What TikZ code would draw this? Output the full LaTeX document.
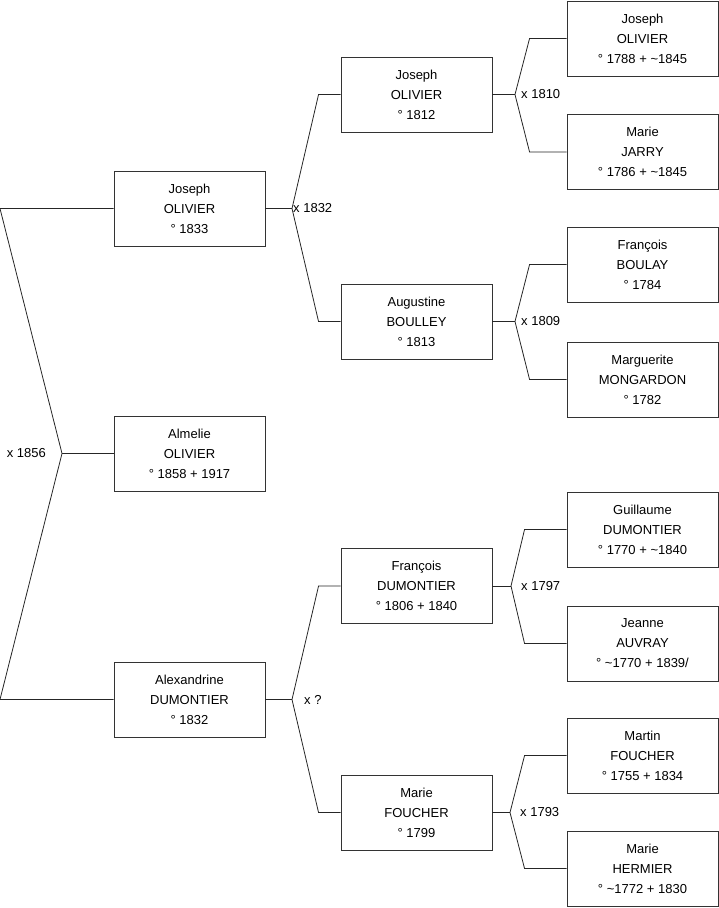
\documentclass[tikz,border=0pt]{standalone}
\usepackage{fontspec}
\setmainfont{Liberation Sans}
\usepackage{tikz}
\usetikzlibrary{positioning}
\usetikzlibrary{calc}

\tikzset{
    person/.style={draw=black!80, line width=0.9pt, minimum width=151pt, minimum height=75pt,
        inner sep=0pt, align=center, font=\fontsize{13}{20}\selectfont},
    link/.style={draw=black!85, line width=0.8pt},
    wed/.style={inner sep=0pt, font=\fontsize{13}{15}\selectfont}
}

\begin{document}
\begin{tikzpicture}[x=1pt,y=-1pt]
    \useasboundingbox (0,0) rectangle (719,908);

    \node[person] (me) at (189.5,453.5) {Almelie\\OLIVIER\\° 1858 + 1917};
    \node[person] (fa) at (189.5,208.5) {Joseph\\OLIVIER\\° 1833};
    \node[person] (mo) at (189.5,699.5) {Alexandrine\\DUMONTIER\\° 1832};

    \node[person] (ff) at (416.5,94.5)  {Joseph\\OLIVIER\\° 1812};
    \node[person] (fm) at (416.5,321.5) {Augustine\\BOULLEY\\° 1813};
    \node[person] (mf) at (416.5,586)   {François\\DUMONTIER\\° 1806 + 1840};
    \node[person] (mm) at (416.5,812.5) {Marie\\FOUCHER\\° 1799};

    \node[person] (fff) at (642.5,38.5)  {Joseph\\OLIVIER\\° 1788 + \textasciitilde1845};
    \node[person] (ffm) at (642.5,152)   {Marie\\JARRY\\° 1786 + \textasciitilde1845};
    \node[person] (fmf) at (642.5,264.5) {François\\BOULAY\\° 1784};
    \node[person] (fmm) at (642.5,379.5) {Marguerite\\MONGARDON\\° 1782};
    \node[person] (mff) at (642.5,529.5) {Guillaume\\DUMONTIER\\° 1770 + \textasciitilde1840};
    \node[person] (mfm) at (642.5,643.5) {Jeanne\\AUVRAY\\° \textasciitilde1770 + 1839/};
    \node[person] (mmf) at (642.5,755.5) {Martin\\FOUCHER\\° 1755 + 1834};
    \node[person] (mmm) at (642.5,868.5) {Marie\\HERMIER\\° \textasciitilde1772 + 1830};

    \coordinate (x0) at (62,453.5);
    \coordinate (l0a) at (0,208.5);
    \coordinate (l0b) at (0,699.5);
    \coordinate (x1) at (292,208.5);
    \coordinate (x2) at (292,699.5);
    \coordinate (x3) at (515,94.5);
    \coordinate (x4) at (515,321.5);
    \coordinate (x5) at (511,586);
    \coordinate (x6) at (510,812.5);

    \node[wed, left=16pt of x0] (w0) {x 1856};
    \node[wed, right=1pt of x1] (w1) {x 1832};
    \node[wed, right=12pt of x2] (w2) {x ?};
    \node[wed, right=6pt of x3] (w3) {x 1810};
    \node[wed, right=6pt of x4] (w4) {x 1809};
    \node[wed, right=10pt of x5] (w5) {x 1797};
    \node[wed, right=10pt of x6] (w6) {x 1793};

    \draw[link] (fa.west) -- (l0a) -- (x0) -- (l0b) -- (mo.west);
    \draw[link] (x0) -- (me.west);

    \draw[link] (fa.east) -- (x1);
    \draw[link] (ff.west) -- ([xshift=-22pt]ff.west) -- (x1) -- ([xshift=-22pt]fm.west) -- (fm.west);
    \draw[link] (mo.east) -- (x2);
    \draw[link] (mf.west) -- ([xshift=-22pt]mf.west) -- (x2) -- ([xshift=-22pt]mm.west) -- (mm.west);

    \draw[link] (ff.east) -- (x3);
    \draw[link] (fff.west) -- ([xshift=-37pt]fff.west) -- (x3) -- ([xshift=-37pt]ffm.west) -- (ffm.west);
    \draw[link] (fm.east) -- (x4);
    \draw[link] (fmf.west) -- ([xshift=-37pt]fmf.west) -- (x4) -- ([xshift=-37pt]fmm.west) -- (fmm.west);
    \draw[link] (mf.east) -- (x5);
    \draw[link] (mff.west) -- ([xshift=-42pt]mff.west) -- (x5) -- ([xshift=-42pt]mfm.west) -- (mfm.west);
    \draw[link] (mm.east) -- (x6);
    \draw[link] (mmf.west) -- ([xshift=-42pt]mmf.west) -- (x6) -- ([xshift=-42pt]mmm.west) -- (mmm.west);
\end{tikzpicture}
\end{document}
